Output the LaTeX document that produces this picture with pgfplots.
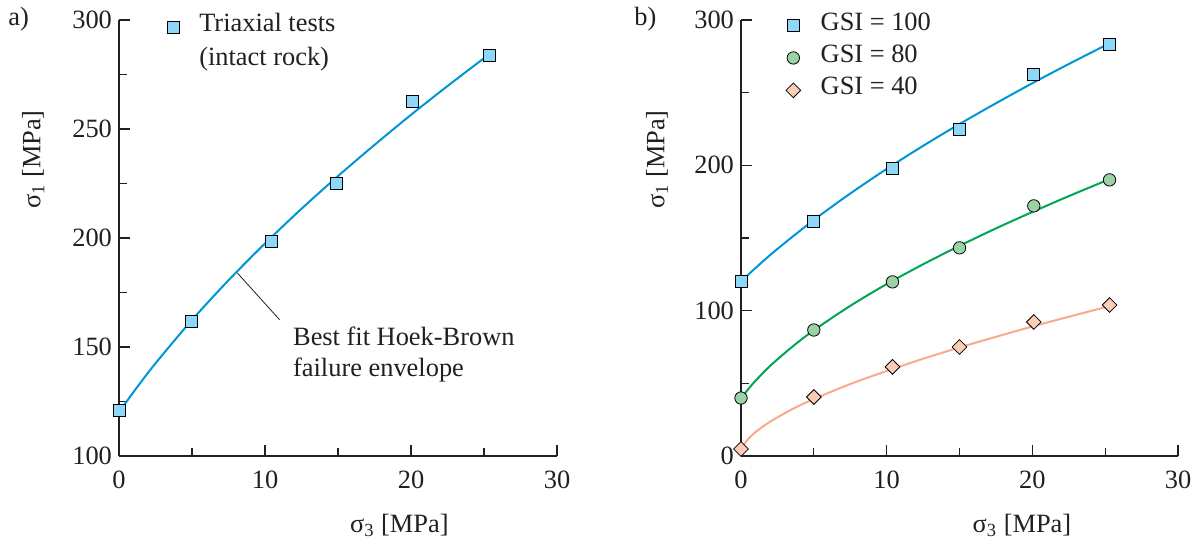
\documentclass[border=0pt]{standalone}
\usepackage{fontspec}
\setmainfont{Liberation Serif}
\usepackage{pgfplots}
\pgfplotsset{compat=1.18}

\definecolor{hbblue}{HTML}{0096D6}
\definecolor{hbbluefill}{HTML}{8DD8F8}
\definecolor{hbgreen}{HTML}{00A651}
\definecolor{hbgreenfill}{HTML}{99D3A5}
\definecolor{hbsalmon}{HTML}{F8A98E}
\definecolor{hbsalmonfill}{HTML}{FBCDB6}
\definecolor{ink}{HTML}{231F20}

\newcommand\fs{\fontsize{13.2}{15.8}\selectfont}

\pgfplotsset{
  hb/.style={
    scale only axis, height=218pt,
    axis x line*=bottom, axis y line*=left,
    axis line style={line width=0.6pt,ink},
    xmin=0, xmax=30, xtick={0,10,20,30}, minor xtick={5,15,25},
    tick align=inside, major tick length=5.5pt, minor tick length=3.8pt,
    every tick/.style={line width=0.6pt,ink},
    tick label style={font=\fs,text=ink},
    xticklabel style={yshift=-4pt},
    /pgf/number format/assume math mode=true,
    clip=false,
    legend cell align=left,
    legend style={draw=none, fill=none, font=\fs, text=ink,
      inner sep=0pt, anchor=north west,
      nodes={inner sep=0pt, text height=0.7em, text depth=0.25em},
      /tikz/every odd column/.append style={column sep=10pt}},
  },
  pts/.style={only marks, mark options={draw=ink, line width=0.6pt}},
}

\begin{document}
\begin{tikzpicture}
\path[use as bounding box] (0,0) rectangle (599.5pt,272.5pt);

\node[anchor=north west, inner sep=0pt, font=\fs, text=ink] at (4pt,269pt) {a)};
\node[anchor=north west, inner sep=0pt, font=\fs, text=ink] at (317pt,269pt) {b)};

% a) intact rock
\begin{axis}[hb, width=219pt, at={(59.5pt,44.5pt)}, anchor=south west,
  ymin=100, ymax=300, ytick={100,150,200,250,300}, minor ytick={125,175,225,275},
  legend style={at={(0.084,1.006)}, row sep=7.6pt}]
\addplot[hbblue, line width=1pt, smooth, forget plot] coordinates {
  (0,120) (1,129.4) (2.5,142.5) (5,162.4) (7.5,180.6) (10,197.5) (12.5,213.4)
  (15,228.4) (17.5,242.7) (20,256.5) (22.5,269.7) (25.4,284.5)};
\addplot[pts, mark=square*, mark size=3pt, mark options={fill=hbbluefill}] coordinates {
  (0,121) (4.95,161.8) (10.45,198.5) (14.9,225.2) (20.1,262.8) (25.35,283.6)};
\addlegendentry{Triaxial tests}
\addlegendimage{empty legend}
\addlegendentry{(intact rock)}
\draw[ink, line width=0.4pt] (axis cs:8.1,184) -- (axis cs:11.0,162.5);
\node[anchor=north west, inner sep=0pt, align=left, font=\fs, text=ink]
  at (axis cs:11.9,159.5) {Best fit Hoek-Brown\\failure envelope};
\node[font=\fs, text=ink] at (rel axis cs:0.64,-0.16) {σ\textsubscript{3} [MPa]};
\node[font=\fs, text=ink, rotate=90] at (rel axis cs:-0.196,0.68) {σ\textsubscript{1} [MPa]};
\end{axis}

% b) GSI
\begin{axis}[hb, width=218.5pt, at={(370.5pt,44.5pt)}, anchor=south west,
  ymin=0, ymax=300, ytick={0,100,200,300}, minor ytick={50,150,250},
  legend style={at={(0.102,1.01)}, row sep=6.7pt}]
\addplot[hbblue, line width=1pt, smooth, forget plot] coordinates {
  (0,120) (1,129.4) (2.5,142.5) (5,162.4) (7.5,180.6) (10,197.5) (12.5,213.4)
  (15,228.4) (17.5,242.7) (20,256.5) (22.5,269.7) (25.4,284.5)};
\addplot[hbgreen, line width=1pt, smooth, forget plot] coordinates {
  (0,39.5) (0.5,46.0) (1,51.8) (2,62.0) (3.5,75.0) (5,86.5) (7.5,103.3) (10,118.3)
  (12.5,131.9) (15,144.6) (17.5,156.6) (20,167.9) (22.5,178.8) (25.4,190.9)};
\addplot[hbsalmon, line width=1pt, smooth, forget plot] coordinates {
  (0,4.0) (0.25,8.6) (0.5,11.7) (1,16.5) (2,23.6) (3.5,32.1) (5,39.2) (7.5,49.5)
  (10,58.5) (12.5,66.9) (15,74.7) (17.5,82.0) (20,89.1) (22.5,95.8) (25.4,103.4)};
\addplot[pts, mark=square*, mark size=3pt, mark options={fill=hbbluefill}] coordinates {
  (0,120.4) (5,161.7) (10.4,198.2) (15,225) (20.1,262.8) (25.3,283.5)};
\addlegendentry{GSI = 100}
\addplot[pts, mark=*, mark size=3.1pt, mark options={fill=hbgreenfill}] coordinates {
  (0,39.9) (5,86.7) (10.4,119.8) (15,143.2) (20.1,172.1) (25.3,190)};
\addlegendentry{GSI = 80}
\addplot[pts, mark=square*, mark size=2.6pt, mark options={fill=hbsalmonfill, rotate=45}] coordinates {
  (0,4.8) (5,40.6) (10.4,61.3) (15,75) (20.1,92.2) (25.3,103.9)};
\addlegendentry{GSI = 40}
\node[font=\fs, text=ink] at (rel axis cs:0.643,-0.16) {σ\textsubscript{3} [MPa]};
\node[font=\fs, text=ink, rotate=90] at (rel axis cs:-0.192,0.68) {σ\textsubscript{1} [MPa]};
\end{axis}
\end{tikzpicture}
\end{document}
